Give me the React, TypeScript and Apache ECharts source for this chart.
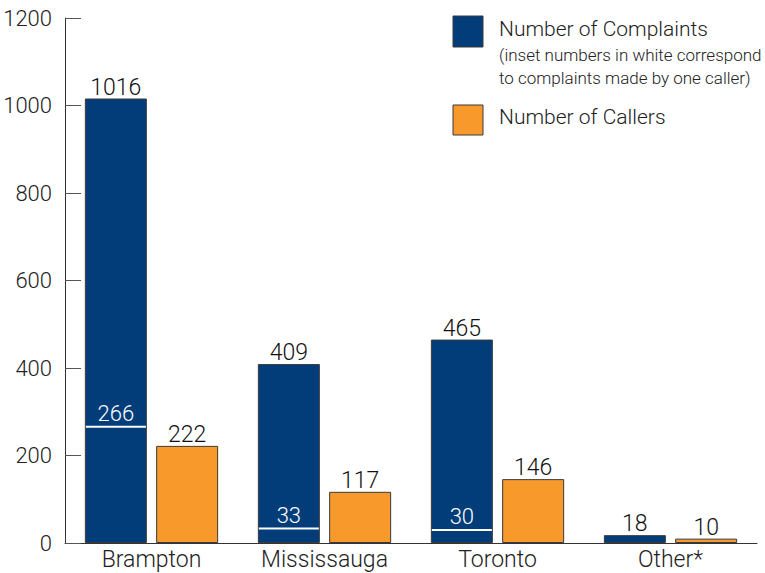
import React, { useEffect, useRef } from "react";
import * as echarts from "echarts";

const categories = ["Brampton", "Mississauga", "Toronto", "Other*"];
const complaints = [1016, 409, 465, 18];
const callers = [222, 117, 146, 10];
const singleCallerComplaints = [266, 33, 30];
const yTicks = { min: 0, max: 1200, interval: 200 };

const FONT = "Roboto, 'Liberation Sans', sans-serif";
const FW = 300;
const BLUE = "#023d7a";
const ORANGE = "#f7992b";
const BAR_W = 62;
const GAP_RATIO = 0.15;

export default function App() {
  const ref = useRef<HTMLDivElement>(null);
  useEffect(() => {
    if (!ref.current) return;
    const chart = echarts.init(ref.current, undefined, { renderer: "svg" });
    const option: any = {
      animation: false,
      textStyle: { fontFamily: FONT, fontWeight: FW },
      grid: { left: 65, right: 8, top: 18, bottom: 30, containLabel: false, outerBoundsMode: "none" },
      xAxis: {
        type: "category",
        data: categories,
        axisLine: { lineStyle: { color: "#333", width: 1 } },
        axisTick: { inside: true, length: 12, interval: 0, lineStyle: { color: "#555" } },
        axisLabel: { fontSize: 23, color: "#222", margin: 5, interval: 0, fontFamily: FONT, fontWeight: FW },
        splitLine: { show: false },
      },
      yAxis: {
        type: "value",
        min: yTicks.min,
        max: yTicks.max,
        interval: yTicks.interval,
        axisLine: { show: true, lineStyle: { color: "#333", width: 1 } },
        axisTick: { show: true, inside: true, length: 16, lineStyle: { color: "#555" } },
        axisLabel: { fontSize: 22, color: "#222", margin: 13, fontFamily: FONT, fontWeight: FW, formatter: (v: number) => String(v) },
        splitLine: { show: false },
      },
      series: [
        {
          name: "Number of Complaints",
          type: "bar",
          data: complaints,
          barWidth: BAR_W,
          barGap: GAP_RATIO * 100 + "%",
          itemStyle: { color: BLUE, borderColor: "#3a3a3a", borderWidth: 1 },
          label: { show: true, position: "top", distance: 0, fontSize: 23, color: "#111", fontFamily: FONT, fontWeight: FW },
        },
        {
          name: "Number of Callers",
          type: "bar",
          data: callers,
          barWidth: BAR_W,
          itemStyle: { color: ORANGE, borderColor: "#3a3a3a", borderWidth: 1 },
          label: { show: true, position: "top", distance: 0, fontSize: 23, color: "#111", fontFamily: FONT, fontWeight: FW },
        },
        {
          name: "inset",
          type: "custom",
          z: 10,
          data: singleCallerComplaints.map((v, i) => [i, v]),
          encode: { x: 0, y: 1 },
          renderItem: (params: any, api: any) => {
            const p = api.coord([api.value(0), api.value(1)]);
            const cx = p[0] - (BAR_W + BAR_W * GAP_RATIO) / 2;
            return {
              type: "group",
              children: [
                {
                  type: "line",
                  shape: { x1: cx - BAR_W / 2 + 1, y1: p[1], x2: cx + BAR_W / 2 - 1, y2: p[1] },
                  style: { stroke: "#ffffff", lineWidth: 2 },
                },
                {
                  type: "text",
                  x: cx,
                  y: p[1] - 2,
                  style: {
                    text: String(api.value(1)),
                    fill: "#ffffff",
                    fontSize: 22,
                    fontFamily: FONT,
                    fontWeight: FW,
                    align: "center",
                    verticalAlign: "bottom",
                  },
                },
              ],
            };
          },
        },
      ],
      graphic: [
        { type: "rect", shape: { x: 453, y: 16, width: 30, height: 31 }, style: { fill: BLUE, stroke: "#3a3a3a", lineWidth: 1 } },
        { type: "text", x: 499, y: 29, style: { text: "Number of Complaints", fontSize: 21, fontFamily: FONT, fontWeight: FW, fill: "#222", verticalAlign: "middle" } },
        { type: "text", x: 499, y: 55, style: { text: "(inset numbers in white correspond", fontSize: 17, fontFamily: FONT, fontWeight: FW, fill: "#222", verticalAlign: "middle" } },
        { type: "text", x: 499, y: 78, style: { text: "to complaints made by one caller)", fontSize: 17, fontFamily: FONT, fontWeight: FW, fill: "#222", verticalAlign: "middle" } },
        { type: "rect", shape: { x: 453, y: 105, width: 30, height: 30 }, style: { fill: ORANGE, stroke: "#3a3a3a", lineWidth: 1 } },
        { type: "text", x: 499, y: 117, style: { text: "Number of Callers", fontSize: 21, fontFamily: FONT, fontWeight: FW, fill: "#222", verticalAlign: "middle" } },
      ],
    };
    chart.setOption(option);
    return () => chart.dispose();
  }, []);
  return <div ref={ref} style={{ width: 765, height: 573, position: "absolute", left: 0, top: 0 }} />;
}
